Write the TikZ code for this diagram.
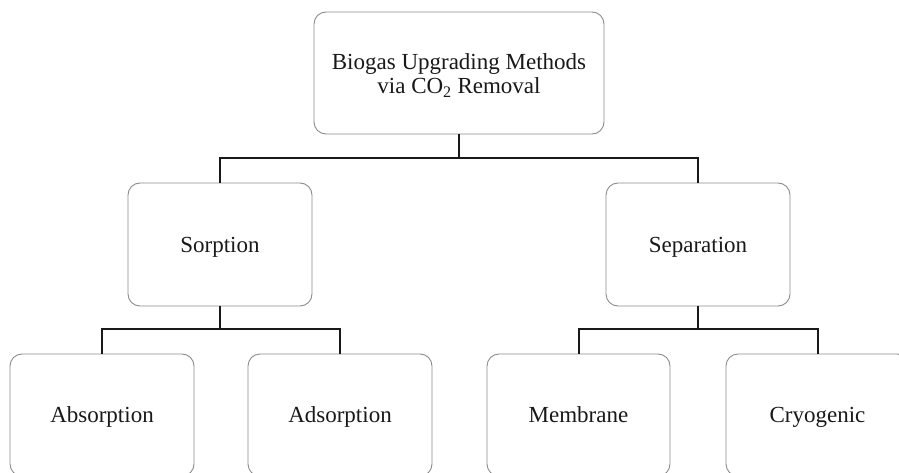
\documentclass[tikz,border=0pt]{standalone}
\usepackage{fontspec}
\setmainfont{Liberation Serif}
\begin{document}
\begin{tikzpicture}[x=1pt,y=-1pt,
  box/.style={draw=black!45, line width=0.9pt, rounded corners=12pt, fill=white,
    inner sep=0pt, align=center, font=\fontsize{23}{24}\selectfont, text=black!90},
  one/.style={box, text height=20pt, text depth=4.5pt},
  conn/.style={draw=black!90, line width=2pt}]
\useasboundingbox (0,0) rectangle (899,473);
\clip (0,0) rectangle (899,473);
\node[box, minimum width=290pt, minimum height=122pt] (top) at (459,73) {};
\node[align=center, font=\fontsize{23}{24}\selectfont, text=black!90, inner sep=0pt] (toptext) at (459,75.5) {Biogas Upgrading Methods\\via CO\textsubscript{2} Removal};
\node[one, minimum width=184pt, minimum height=123pt] (sorp) at (220,244.5) {Sorption};
\node[one, minimum width=184pt, minimum height=123pt] (sep) at (698,244.5) {Separation};
\node[one, minimum width=184pt, minimum height=122pt] (abs) at (102,415) {Absorption};
\node[one, minimum width=184pt, minimum height=122pt] (ads) at (340,415) {Adsorption};
\node[one, minimum width=183pt, minimum height=122pt] (mem) at (578.5,415) {Membrane};
\node[one, minimum width=183pt, minimum height=122pt] (cryo) at (817.5,415) {Cryogenic};
\coordinate (j1) at (459,158);
\coordinate (j2) at (220,329);
\coordinate (j3) at (698,329);
\draw[conn] (top.south) -- (j1);
\draw[conn] (sorp.north) -- (sorp.north |- j1) -- (sep.north |- j1) -- (sep.north);
\draw[conn] (sorp.south) -- (j2);
\draw[conn] (abs.north) -- (abs.north |- j2) -- (ads.north |- j2) -- (ads.north);
\draw[conn] (sep.south) -- (j3);
\draw[conn] (mem.north) -- (mem.north |- j3) -- (cryo.north |- j3) -- (cryo.north);
\end{tikzpicture}
\end{document}
